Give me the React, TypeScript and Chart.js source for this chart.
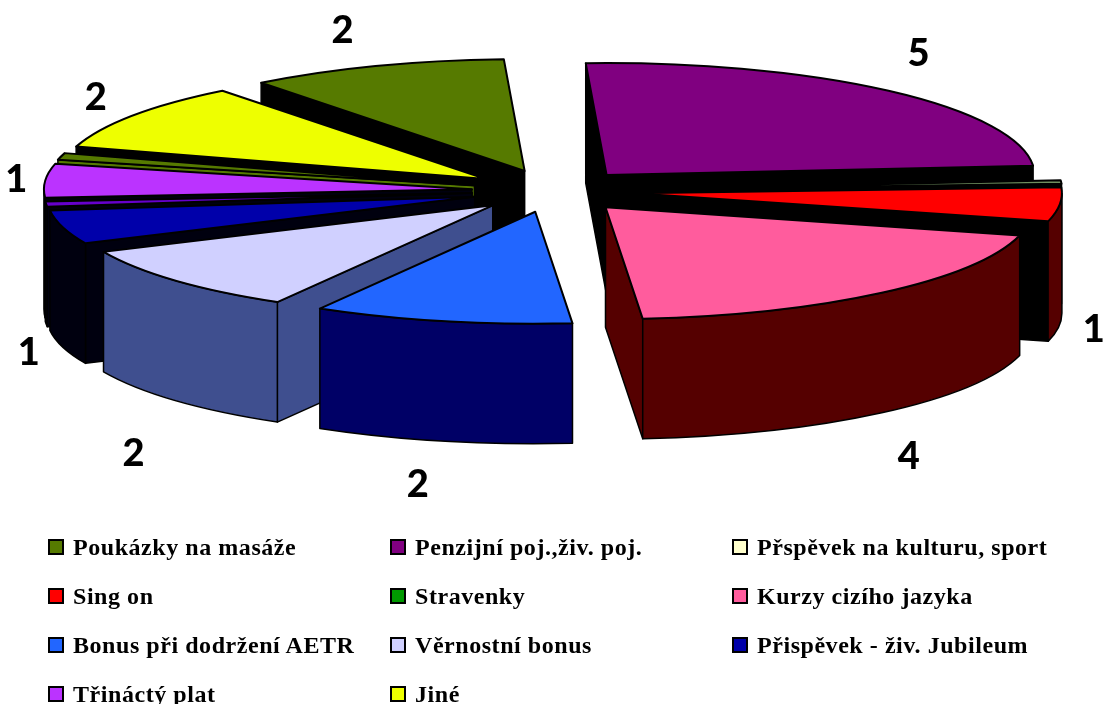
import React, { useEffect, useRef } from "react";
import { Chart, registerables } from "chart.js";

Chart.register(...registerables);

// One entry per slice, clockwise; an empty name keeps a slice out of the legend.
const categories = [
  "Poukázky na masáže",
  "Penzijní poj.,živ. poj.",
  "Přspěvek na kulturu, sport",
  "Sing on",
  "Stravenky",
  "Kurzy cizího jazyka",
  "Bonus při dodržení AETR",
  "Věrnostní bonus",
  "Přispěvek - živ. Jubileum",
  "",
  "Třináctý plat",
  "",
  "Jiné",
];
const values = [2, 5, 0.1, 1, 0, 4, 2, 2, 1, 0.15, 1, 0.2, 2];
const topColors = [
  "#567a00", "#800080", "#6f8f5f", "#ff0000", "#009900", "#ff5c9d", "#2266ff",
  "#d0d0ff", "#0000aa", "#6600cc", "#bb33ff", "#567a00", "#eeff00",
];
const legendColors = [
  "#567a00", "#800080", "#ffffcc", "#ff0000", "#009900", "#ff5c9d", "#2266ff",
  "#d0d0ff", "#0000aa", "#6600cc", "#bb33ff", "#567a00", "#eeff00",
];
const rimColors = [
  "#000000", "#000000", "#000000", "#550000", "#000000", "#550000", "#000066",
  "#3f4f8f", "#00000f", "#00000f", "#00000f", "#000000", "#000000",
];
const cutColors = [
  "#000000", "#000000", "#000000", "#000000", "#000000", "#550000", "#000066",
  "#3f4f8f", "#00000f", "#00000f", "#00000f", "#567a00", "#000000",
];
// Value labels sit this far from the middle of each slice's rim.
const labelNudges: ([number, number] | null)[] = [
  [-33, -35], [30, -37], null, [34, 125], null, [27, 164], [-24, 164],
  [-42, 173], [-34, 126], null, [-29, -1], null, [-37, -18],
];

const WIDTH = 1105;
const HEIGHT = 704;
const PIE = { x: 553, y: 191, rx: 428, ry: 112, depth: 120, explode: 0.19, rotation: -38 };
const LEGEND_COLUMNS = [48, 390, 732];
const LEGEND_ROWS = [547, 596, 645, 694];

type ArcLike = { x: number; y: number; startAngle: number; endAngle: number; outerRadius: number };

function slicePlacement(arc: ArcLike) {
  const mid = (arc.startAngle + arc.endAngle) / 2;
  return {
    mid,
    cx: PIE.x + Math.cos(mid) * PIE.explode * PIE.rx,
    cy: PIE.y + Math.sin(mid) * PIE.explode * PIE.ry,
  };
}

function shape(ctx: CanvasRenderingContext2D, fill: string, trace: () => void) {
  ctx.beginPath();
  trace();
  ctx.closePath();
  ctx.fillStyle = fill;
  ctx.fill();
  ctx.lineWidth = 1.5;
  ctx.strokeStyle = "#000000";
  ctx.stroke();
}

function drawSides(ctx: CanvasRenderingContext2D, arc: ArcLike, index: number) {
  const { cx, cy } = slicePlacement(arc);
  const { rx, ry, depth } = PIE;
  const cut = (angle: number, outwardSign: number) => {
    // Seen from above, a cut face shows only when its outward normal points down the page.
    if (Math.cos(angle) * outwardSign <= 0) return;
    const ex = cx + Math.cos(angle) * rx;
    const ey = cy + Math.sin(angle) * ry;
    shape(ctx, cutColors[index], () => {
      ctx.moveTo(cx, cy);
      ctx.lineTo(ex, ey);
      ctx.lineTo(ex, ey + depth);
      ctx.lineTo(cx, cy + depth);
    });
  };
  cut(arc.startAngle, -1);
  cut(arc.endAngle, 1);

  // The curved rim is visible on the front half of the ellipse only.
  const TWO_PI = Math.PI * 2;
  for (const k of [-1, 0, 1]) {
    const from = Math.max(arc.startAngle, k * TWO_PI);
    const to = Math.min(arc.endAngle, k * TWO_PI + Math.PI);
    if (to <= from) continue;
    shape(ctx, rimColors[index], () => {
      ctx.ellipse(cx, cy, rx, ry, 0, from, to);
      ctx.lineTo(cx + Math.cos(to) * rx, cy + Math.sin(to) * ry + depth);
      ctx.ellipse(cx, cy + depth, rx, ry, 0, to, from, true);
    });
  }
}

const piePlugin = {
  id: "explodedPie",
  beforeDatasetDraw() {
    return false;
  },
  beforeDatasetsDraw(chart: Chart) {
    const ctx = chart.ctx;
    const arcs = chart.getDatasetMeta(0).data as unknown as (ArcLike & { draw(c: CanvasRenderingContext2D): void })[];
    const visible = arcs.map((arc, i) => ({ arc, i })).filter(({ i }) => values[i] > 0);

    const backToFront = [...visible].sort(
      (a, b) => Math.sin(slicePlacement(a.arc).mid) - Math.sin(slicePlacement(b.arc).mid),
    );
    ctx.save();
    ctx.lineJoin = "round";
    backToFront.forEach(({ arc, i }) => drawSides(ctx, arc, i));

    visible.forEach(({ arc }) => {
      const { cx, cy } = slicePlacement(arc);
      ctx.save();
      ctx.translate(cx, cy);
      ctx.scale(PIE.rx / arc.outerRadius, PIE.ry / arc.outerRadius);
      ctx.translate(-arc.x, -arc.y);
      arc.draw(ctx);
      ctx.restore();

      ctx.beginPath();
      ctx.moveTo(cx, cy);
      ctx.ellipse(cx, cy, PIE.rx, PIE.ry, 0, arc.startAngle, arc.endAngle);
      ctx.closePath();
      ctx.lineWidth = 2;
      ctx.strokeStyle = "#000000";
      ctx.stroke();
    });

    ctx.fillStyle = "#000000";
    ctx.font = "900 38px Lato";
    ctx.textAlign = "center";
    ctx.textBaseline = "middle";
    visible.forEach(({ arc, i }) => {
      const nudge = labelNudges[i];
      if (!nudge) return;
      const { mid, cx, cy } = slicePlacement(arc);
      const x = cx + Math.cos(mid) * PIE.rx + nudge[0];
      const y = cy + Math.sin(mid) * PIE.ry + nudge[1];
      ctx.fillText(String(values[i]), x, y);
    });
    ctx.restore();
  },
};

export default function App() {
  const canvasRef = useRef<HTMLCanvasElement>(null);

  useEffect(() => {
    const chart = new Chart(canvasRef.current!, {
      type: "pie",
      data: {
        labels: categories,
        datasets: [{ data: values, backgroundColor: topColors, borderWidth: 0 }],
      },
      options: {
        responsive: false,
        animation: false,
        rotation: PIE.rotation,
        plugins: { legend: { display: false }, tooltip: { enabled: false } },
      },
      plugins: [piePlugin],
    } as any);
    return () => chart.destroy();
  }, []);

  const legendEntries = categories
    .map((name, i) => ({ name, color: legendColors[i] }))
    .filter((entry) => entry.name !== "");

  return (
    <div style={{ position: "fixed", left: 0, top: 0, width: WIDTH, height: HEIGHT, overflow: "hidden", background: "#fff" }}>
      <canvas ref={canvasRef} width={WIDTH} height={HEIGHT} style={{ display: "block" }} />
      {legendEntries.map((entry, i) => {
        const left = LEGEND_COLUMNS[i % 3];
        const middle = LEGEND_ROWS[Math.floor(i / 3)];
        return (
          <div
            key={entry.name}
            style={{
              position: "absolute", left, top: middle - 20, height: 40, display: "flex", alignItems: "center",
              whiteSpace: "nowrap", fontFamily: '"Liberation Serif"', fontWeight: "bold", fontSize: 24, letterSpacing: 0.55, color: "#000",
            }}
          >
            <span style={{ width: 16, height: 16, boxSizing: "border-box", border: "2px solid #000", background: entry.color, marginRight: 9, flex: "none" }} />
            {entry.name}
          </div>
        );
      })}
    </div>
  );
}
